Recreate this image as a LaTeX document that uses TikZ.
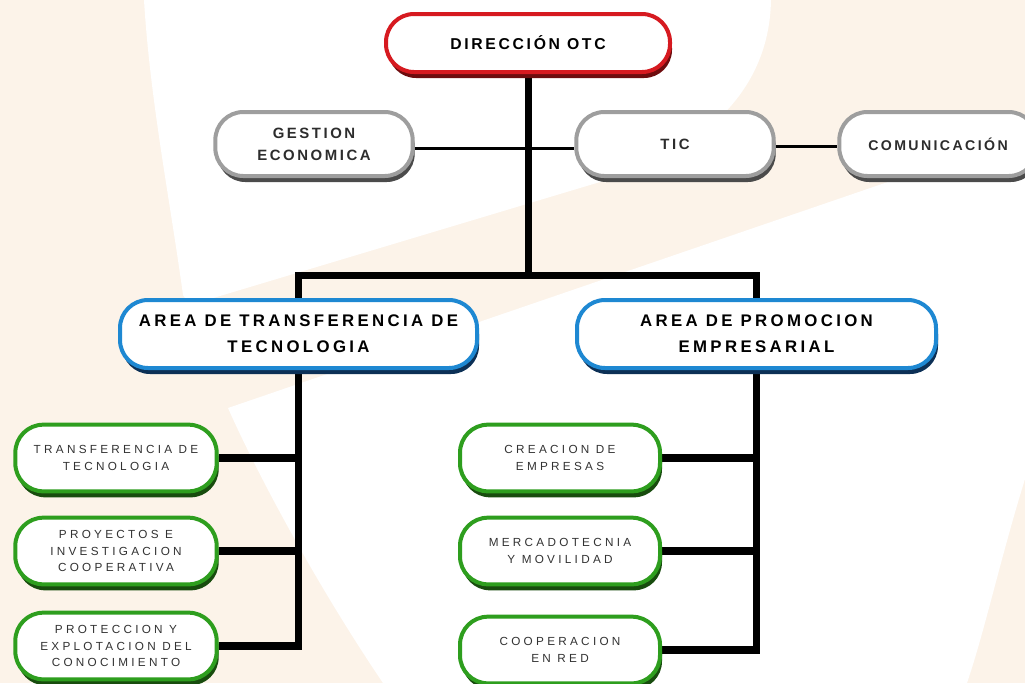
\documentclass[tikz,border=0pt]{standalone}
\usepackage{fontspec}
\setmainfont{Liberation Sans}
\newfontfamily\spA[LetterSpace=17]{Liberation Sans Bold}
\newfontfamily\spAA[LetterSpace=20]{Liberation Sans Bold}
\newfontfamily\spB[LetterSpace=28]{Liberation Sans}
\usetikzlibrary{shadows,calc}
\pgfdeclarelayer{bg}
\pgfsetlayers{bg,main}
\definecolor{peach}{RGB}{252,243,233}
\definecolor{bred}{RGB}{214,26,32}
\definecolor{bredd}{RGB}{110,12,14}
\definecolor{bgray}{RGB}{158,158,158}
\definecolor{bgrayd}{RGB}{75,75,75}
\definecolor{bblue}{RGB}{30,136,210}
\definecolor{bblued}{RGB}{12,48,86}
\definecolor{bgreen}{RGB}{46,158,30}
\definecolor{bgreend}{RGB}{24,76,14}
\definecolor{txtdark}{RGB}{45,45,45}
\definecolor{txtgreen}{RGB}{50,50,50}
\tikzset{
  box/.style={rectangle, rounded corners=21pt, line width=3pt, fill=white, align=center, inner sep=0pt},
  dirbox/.style={box, draw=bred, drop shadow={shadow xshift=1.5pt, shadow yshift=-4.5pt, fill=bredd, opacity=1},
    minimum width=213pt, minimum height=43.5pt, text=black, font=\fontsize{11.8}{14}\selectfont\spA},
  graybox/.style={box, draw=bgray, drop shadow={shadow xshift=1.5pt, shadow yshift=-4.5pt, fill=bgrayd, opacity=1},
    minimum width=148pt, minimum height=48pt, text=txtdark, font=\fontsize{11.2}{16.5}\selectfont\spA},
  areabox/.style={box, draw=bblue, drop shadow={shadow xshift=1.5pt, shadow yshift=-4.5pt, fill=bblued, opacity=1},
    minimum height=51pt, text=black, font=\fontsize{12.6}{19.5}\selectfont\spAA},
  greenbox/.style={box, draw=bgreen, drop shadow={shadow xshift=1.5pt, shadow yshift=-4.5pt, fill=bgreend, opacity=1},
    minimum width=151pt, minimum height=50pt, text=txtgreen, font=\fontsize{8.8}{12.6}\selectfont\spB},
  trunk/.style={line width=5.25pt, line cap=rect, line join=miter},
  branch/.style={line width=6pt},
  thinline/.style={line width=2.25pt}
}
\begin{document}
\begin{tikzpicture}[x=0.75pt, y=-0.75pt]
\useasboundingbox (0,0) rectangle (1025,683);
\clip (0,0) rectangle (1025,683);
% nodes
\node[dirbox] (dir) at (528,43) {DIRECCIÓN OTC};
\node[graybox] (gest) at (314,144) {GESTION\\ECONOMICA};
\node[graybox] (tic) at (675,144) {TIC};
\node[graybox, font=\fontsize{10.6}{14}\selectfont\spA] (com) at (938,144) {COMUNICACIÓN};
\node[areabox, minimum width=267.75pt] (at) at (298.5,334) {AREA DE TRANSFERENCIA DE\\TECNOLOGIA};
\node[areabox, minimum width=269.25pt] (ap) at (756.5,334) {AREA DE PROMOCION\\EMPRESARIAL};
\node[greenbox] (g1) at (116,458) {TRANSFERENCIA DE\\TECNOLOGIA};
\node[greenbox] (g2) at (116,551) {PROYECTOS E\\INVESTIGACION\\COOPERATIVA};
\node[greenbox] (g3) at (116,646) {PROTECCION Y\\EXPLOTACION DEL\\CONOCIMIENTO};
\node[greenbox, minimum width=150pt] (r1) at (560,458) {CREACION DE\\EMPRESAS};
\node[greenbox, minimum width=150pt] (r2) at (560,551) {MERCADOTECNIA\\Y MOVILIDAD};
\node[greenbox, minimum width=150pt] (r3) at (560,650) {COOPERACION\\EN RED};
\coordinate (bus) at (528,275);
\begin{pgfonlayer}{bg}
  \fill[peach] (0,0) rectangle (1025,683);
  \fill[white] (144,0) -- (771,0) .. controls (770,60) and (740,140) .. (600,182)
     -- (200,302) .. controls (191,305) and (186,301) .. (183,295)
     .. controls (170,200) and (150,100) .. (144,0) -- cycle;
  \fill[white] (228,408) -- (1025,135) -- (1025,479)
     .. controls (1000,560) and (985,630) .. (967,683) -- (383,683)
     .. controls (320,590) and (260,480) .. (228,408) -- cycle;
  % connectors
  \draw[thinline] ([yshift=-3pt]gest.east) -- ([yshift=-3pt]tic.west);
  \draw[thinline] ([yshift=-2pt]tic.east) -- ([yshift=-2pt]com.west);
  \draw[trunk] (dir.south) -- (bus);
  \draw[trunk] (at.north) |- (bus) -| (ap.north);
  \draw[trunk] (at.south) -- (at.south |- g3.east);
  \draw[trunk] (ap.south) -- (ap.south |- r3.east);
  \draw[branch] (g1.east) -- (g1.east -| at.south);
  \draw[branch] (g2.east) -- (g2.east -| at.south);
  \draw[branch] (g3.east) -- (g3.east -| at.south);
  \draw[branch] (r1.east) -- (r1.east -| ap.south);
  \draw[branch] (r2.east) -- (r2.east -| ap.south);
  \draw[branch] (r3.east) -- (r3.east -| ap.south);
\end{pgfonlayer}
\end{tikzpicture}
\end{document}
